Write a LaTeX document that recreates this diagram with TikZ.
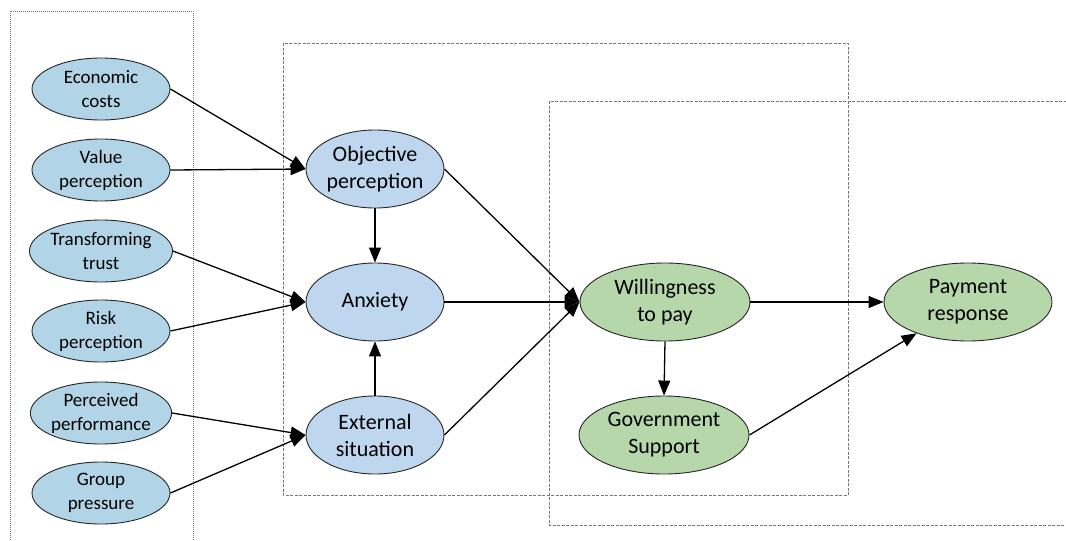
\documentclass[tikz,border=0pt]{standalone}
\usepackage{fontspec}
\setmainfont{Carlito}
\usetikzlibrary{shapes.geometric,arrows.meta}
\definecolor{lblue}{RGB}{177,213,231}
\definecolor{mblue}{RGB}{190,215,238}
\definecolor{lgreen}{RGB}{181,215,170}
\definecolor{boxgray}{RGB}{120,120,120}
\tikzset{
  leftnode/.style={ellipse, draw=black!85, line width=0.9pt, fill=lblue, minimum width=138pt, minimum height=62pt, inner sep=0pt, align=center, font=\fontsize{19}{24}\selectfont},
  midnode/.style={ellipse, draw=black!85, line width=0.9pt, fill=mblue, minimum width=138pt, minimum height=78pt, inner sep=0pt, align=center, font=\fontsize{22}{27}\selectfont},
  grnnode/.style={ellipse, draw=black!85, line width=0.9pt, fill=lgreen, minimum width=170pt, minimum height=78pt, inner sep=0pt, align=center, font=\fontsize{22}{27}\selectfont},
  conn/.style={line width=1.3pt, -{Triangle[length=15pt,width=12pt]}},
  dotbox/.style={draw=boxgray, line width=0.8pt, dash pattern=on 1pt off 1pt},
  dashbox/.style={draw=boxgray, line width=0.8pt, dash pattern=on 3pt off 1.5pt},
}
\begin{document}
\begin{tikzpicture}[x=1pt,y=-1pt]
\useasboundingbox (0,0) rectangle (1066,541);
\fill[white] (0,0) rectangle (1066,541);
\begin{scope}
\clip (0,0) rectangle (1066,541);
\draw[dotbox] (10,560) -- (10,11) -- (193,11) -- (193,560);
\draw[dashbox] (283,43) rectangle (848,495);
\draw[dashbox] (1080,101) -- (549,101) -- (549,525) -- (1080,525);
\end{scope}
% left nodes
\node[leftnode] (eco) at (101,89) {Economic\\costs};
\node[leftnode] (val) at (101,170) {Value\\perception};
\node[leftnode] (tra) at (101,251) {Transforming\\trust};
\node[leftnode] (ris) at (101,331) {Risk\\perception};
\node[leftnode] (per) at (101,413) {Perceived\\performance};
\node[leftnode] (grp) at (101,493) {Group\\pressure};
% middle nodes
\node[midnode] (obj) at (375,169) {Objective\\perception};
\node[midnode] (anx) at (375,302) {Anxiety};
\node[midnode] (ext) at (375,435) {External\\situation};
% green nodes
\node[grnnode] (wil) at (665,302) {Willingness\\to pay};
\node[grnnode] (gov) at (664,435) {Government\\Support};
\node[grnnode, minimum width=168pt] (pay) at (968,302) {Payment\\response};
% connectors
\draw[conn] (eco.east) -- (obj.west);
\draw[conn] (val.east) -- (obj.west);
\draw[conn] (tra.east) -- (anx.west);
\draw[conn] (ris.east) -- (anx.west);
\draw[conn] (per.east) -- (ext.west);
\draw[conn] (grp.east) -- (ext.west);
\draw[conn] (obj.south) -- (anx.north);
\draw[conn] (ext.north) -- (anx.south);
\draw[conn] (obj.east) -- (wil.west);
\draw[conn] (anx.east) -- (wil.west);
\draw[conn] (ext.east) -- (wil.west);
\draw[conn] (wil.east) -- (pay.west);
\draw[conn] (wil.south) -- (gov.north);
\draw[conn] (gov.east) -- (pay);
\end{tikzpicture}
\end{document}
